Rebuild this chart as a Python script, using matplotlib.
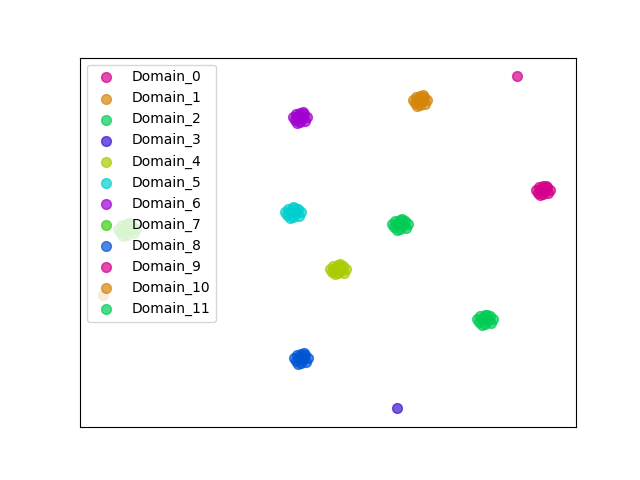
import matplotlib
matplotlib.use("Agg")
import matplotlib.pyplot as plt

domains = [f"Domain_{i}" for i in range(12)]
colors = ["#d4008c", "#d4850a", "#00cc55", "#3a14d0", "#a8cc00", "#00cece",
          "#a000d0", "#3ccc14", "#0055d4", "#d4008c", "#d4850a", "#00cc55"]

# embedding coordinates per domain (x list, y list)
d0_x = [517]
d0_y = [404]
d1_x = [413, 416, 420, 424, 427, 425, 420, 415, 418, 422, 417, 423]
d1_y = [380, 383, 384, 383, 380, 376, 375, 377, 381, 379, 374, 385]
d2_x = [392, 395, 400, 405, 408, 406, 400, 394, 398, 403, 397, 402]
d2_y = [256, 259, 260, 259, 256, 252, 251, 253, 257, 255, 250, 261]
d3_x = [397]
d3_y = [72]
d4_x = [330, 333, 338, 343, 346, 344, 338, 332, 336, 341, 335, 340]
d4_y = [211, 214, 215, 214, 211, 207, 207, 208, 212, 210, 206, 216]
d5_x = [285, 288, 293, 298, 301, 299, 293, 287, 291, 296, 290, 295]
d5_y = [268, 271, 273, 271, 268, 264, 263, 265, 269, 267, 262, 272]
d6_x = [293, 296, 300, 304, 307, 305, 300, 295, 298, 302, 297, 303]
d6_y = [363, 366, 367, 366, 363, 359, 358, 360, 364, 362, 357, 368]
d7_x = [118, 122, 127, 132, 136, 134, 127, 120, 125, 130, 123, 129]
d7_y = [251, 255, 256, 255, 251, 247, 245, 248, 252, 250, 244, 257]
d8_x = [294, 297, 301, 305, 308, 306, 301, 296, 299, 303, 298, 304]
d8_y = [122, 125, 126, 125, 122, 118, 117, 119, 123, 121, 116, 127]
d9_x = [536, 539, 543, 547, 550, 548, 543, 538, 541, 545, 540, 546]
d9_y = [290, 293, 294, 293, 290, 287, 286, 287, 291, 289, 285, 294]
d10_x = [103]
d10_y = [185]
d11_x = [477, 480, 485, 490, 493, 491, 485, 479, 483, 488, 482, 487]
d11_y = [161, 164, 165, 164, 161, 157, 156, 158, 162, 160, 155, 165]

xs = [d0_x, d1_x, d2_x, d3_x, d4_x, d5_x, d6_x, d7_x, d8_x, d9_x, d10_x, d11_x]
ys = [d0_y, d1_y, d2_y, d3_y, d4_y, d5_y, d6_y, d7_y, d8_y, d9_y, d10_y, d11_y]

fig, ax = plt.subplots(figsize=(6.4, 4.8), dpi=100)
for name, c, x, y in zip(domains, colors, xs, ys):
    ax.scatter(x, y, s=50, color=c, alpha=0.7, label=name)

ax.set_xlim(80, 576)
ax.set_ylim(53, 422)
ax.set_xticks([])
ax.set_yticks([])
ax.legend(loc="upper left")
fig.savefig("out.png", dpi=100)
